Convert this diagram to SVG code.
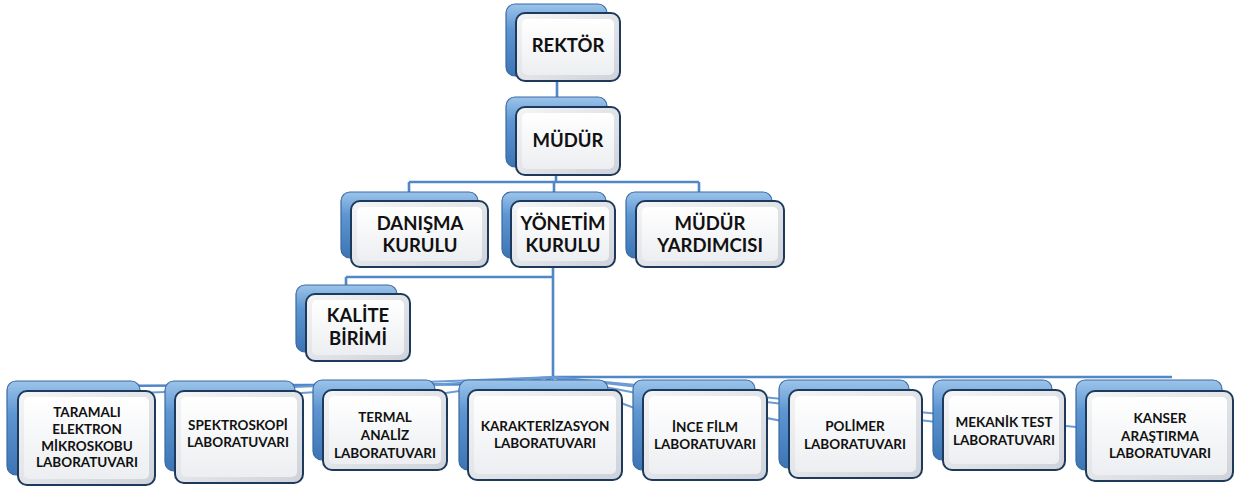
<svg xmlns="http://www.w3.org/2000/svg" width="1245" height="489" viewBox="0 0 1245 489">
<defs>
<linearGradient id="gBack" x1="0" y1="0" x2="0" y2="1">
<stop offset="0" stop-color="#9cc4ea"/>
<stop offset="0.35" stop-color="#5e96d2"/>
<stop offset="1" stop-color="#3d74b4"/>
</linearGradient>
<linearGradient id="gBevel" x1="0" y1="0" x2="1" y2="1">
<stop offset="0" stop-color="#f4f5f7"/>
<stop offset="1" stop-color="#cfd3d9"/>
</linearGradient>
<linearGradient id="gFace" x1="0" y1="0" x2="0" y2="1">
<stop offset="0" stop-color="#ffffff"/>
<stop offset="1" stop-color="#eceef1"/>
</linearGradient>
<style>
.back{fill:url(#gBack);stroke:#3a6aa3;stroke-width:1.2}
.front{fill:url(#gBevel);stroke:#1d3a5c;stroke-width:2}
.face{fill:url(#gFace);stroke:none}
.conn{fill:none;stroke:#4f87c7;stroke-width:2.6}
.thin{fill:none;stroke:#6b9bd4;stroke-width:2}
.big{font-family:Lato,"Liberation Sans",sans-serif;font-weight:bold;font-size:18.5px;fill:#111;text-anchor:middle}
.small{font-family:Lato,"Liberation Sans",sans-serif;font-weight:bold;font-size:13.5px;fill:#111;text-anchor:middle}
</style>
</defs>
<g id="connectors">
<path class="conn" d="M557 76 V97"/>
<path class="conn" d="M556 167 V182 M409 182 H699 M409 182 V192 M554 182 V192 M699 182 V192"/>
<path class="conn" d="M553 258 V377 M346 277 H553 M346 277 V285"/>
<path class="conn" d="M553 377 H1172 M553 377 L540 384 L75 386"/>
<g class="thin">
<path d="M553 377 L86 395"/>
<path d="M553 377 L238 397"/>
<path d="M553 377 L385 402"/>
<path d="M553 377 L545 430"/>
<path d="M553 377 L705 435"/>
<path d="M553 377 L855 435"/>
<path d="M553 377 L1004 430"/>
<path d="M553 377 L1160 435"/>
</g>
</g>
<g id="rektor">
<rect class="back" x="506" y="4" width="101" height="72" rx="9"/>
<rect class="front" x="516" y="13" width="104" height="68" rx="9"/>
<rect class="face" x="522" y="19" width="92" height="56" rx="5"/>
<text class="big" x="568" y="52">REKTÖR</text>
</g>
<g id="mudur">
<rect class="back" x="506" y="97" width="101" height="70" rx="9"/>
<rect class="front" x="516" y="107" width="104" height="68" rx="9"/>
<rect class="face" x="522" y="113" width="92" height="56" rx="5"/>
<text class="big" x="568" y="147">MÜDÜR</text>
</g>
<g id="danisma">
<rect class="back" x="341" y="192" width="137" height="66" rx="9"/>
<rect class="front" x="351" y="201" width="137" height="66" rx="9"/>
<rect class="face" x="357" y="207" width="125" height="54" rx="5"/>
<text class="big" x="420" y="230">DANIŞMA</text>
<text class="big" x="420" y="252">KURULU</text>
</g>
<g id="yonetim">
<rect class="back" x="502" y="192" width="104" height="66" rx="9"/>
<rect class="front" x="511" y="201" width="104" height="66" rx="9"/>
<rect class="face" x="517" y="207" width="92" height="54" rx="5"/>
<text class="big" x="563" y="230">YÖNETİM</text>
<text class="big" x="563" y="252">KURULU</text>
</g>
<g id="mudur-yardimcisi">
<rect class="back" x="626" y="192" width="146" height="66" rx="9"/>
<rect class="front" x="636" y="201" width="148" height="66" rx="9"/>
<rect class="face" x="642" y="207" width="136" height="54" rx="5"/>
<text class="big" x="710" y="230">MÜDÜR</text>
<text class="big" x="710" y="252">YARDIMCISI</text>
</g>
<g id="kalite">
<rect class="back" x="296" y="285" width="101" height="67" rx="9"/>
<rect class="front" x="306" y="294" width="104" height="67" rx="9"/>
<rect class="face" x="312" y="300" width="92" height="55" rx="5"/>
<text class="big" x="358" y="322">KALİTE</text>
<text class="big" x="358" y="345">BİRİMİ</text>
</g>
<g id="lab-sem">
<rect class="back" x="7" y="381" width="133" height="94" rx="9"/>
<rect class="front" x="18" y="391" width="137" height="94" rx="9"/>
<rect class="face" x="24" y="397" width="125" height="82" rx="5"/>
<text class="small" x="87" y="417">TARAMALI</text>
<text class="small" x="87" y="434">ELEKTRON</text>
<text class="small" x="87" y="451">MİKROSKOBU</text>
<text class="small" x="87" y="467">LABORATUVARI</text>
</g>
<g id="lab-spektroskopi">
<rect class="back" x="165" y="381" width="130" height="90" rx="9"/>
<rect class="front" x="175" y="391" width="128" height="92" rx="9"/>
<rect class="face" x="181" y="397" width="116" height="80" rx="5"/>
<text class="small" x="238" y="430">SPEKTROSKOPİ</text>
<text class="small" x="238" y="447">LABORATUVARI</text>
</g>
<g id="lab-termal">
<rect class="back" x="313" y="380" width="122" height="80" rx="9"/>
<rect class="front" x="323" y="390" width="124" height="80" rx="9"/>
<rect class="face" x="329" y="396" width="112" height="68" rx="5"/>
<text class="small" x="385" y="422">TERMAL</text>
<text class="small" x="385" y="440">ANALİZ</text>
<text class="small" x="385" y="458">LABORATUVARI</text>
</g>
<g id="lab-karakterizasyon">
<rect class="back" x="459" y="380" width="149" height="90" rx="9"/>
<rect class="front" x="468" y="390" width="154" height="90" rx="9"/>
<rect class="face" x="474" y="396" width="142" height="78" rx="5"/>
<text class="small" x="545" y="431">KARAKTERİZASYON</text>
<text class="small" x="545" y="448">LABORATUVARI</text>
</g>
<g id="lab-ince-film">
<rect class="back" x="633" y="380" width="122" height="90" rx="9"/>
<rect class="front" x="643" y="390" width="124" height="90" rx="9"/>
<rect class="face" x="649" y="396" width="112" height="78" rx="5"/>
<text class="small" x="705" y="432">İNCE FİLM</text>
<text class="small" x="705" y="449">LABORATUVARI</text>
</g>
<g id="lab-polimer">
<rect class="back" x="779" y="380" width="130" height="88" rx="9"/>
<rect class="front" x="789" y="390" width="133" height="88" rx="9"/>
<rect class="face" x="795" y="396" width="121" height="76" rx="5"/>
<text class="small" x="855" y="431">POLİMER</text>
<text class="small" x="855" y="449">LABORATUVARI</text>
</g>
<g id="lab-mekanik">
<rect class="back" x="933" y="380" width="119" height="80" rx="9"/>
<rect class="front" x="943" y="390" width="122" height="80" rx="9"/>
<rect class="face" x="949" y="396" width="110" height="68" rx="5"/>
<text class="small" x="1004" y="427">MEKANİK TEST</text>
<text class="small" x="1004" y="445">LABORATUVARI</text>
</g>
<g id="lab-kanser">
<rect class="back" x="1076" y="380" width="146" height="90" rx="9"/>
<rect class="front" x="1086" y="391" width="147" height="90" rx="9"/>
<rect class="face" x="1092" y="397" width="135" height="78" rx="5"/>
<text class="small" x="1160" y="423">KANSER</text>
<text class="small" x="1160" y="441">ARAŞTIRMA</text>
<text class="small" x="1160" y="458">LABORATUVARI</text>
</g>
</svg>
